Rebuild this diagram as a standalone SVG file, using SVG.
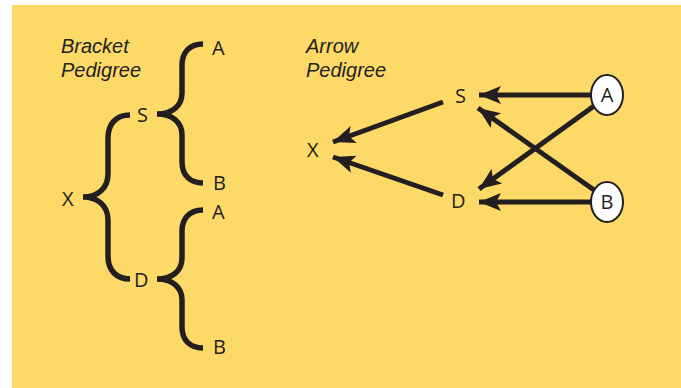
<svg xmlns="http://www.w3.org/2000/svg" width="681" height="388" viewBox="0 0 681 388">
<style>
.lbl{font-family:"Open Sans","Liberation Sans",sans-serif;font-size:20px;fill:#231f20}
.ttl{font-family:"Liberation Sans",Arial,sans-serif;font-size:20px;font-style:italic;fill:#231f20}
.br{fill:none;stroke:#231f20;stroke-width:5.5;stroke-linejoin:miter;stroke-miterlimit:10}
.ar{fill:none;stroke:#231f20;stroke-width:5;marker-end:url(#ah)}
.nd{fill:#fff;stroke:#231f20;stroke-width:2}
</style>
<defs>
<marker id="ah" markerUnits="userSpaceOnUse" markerWidth="26" markerHeight="22" refX="22" refY="9" orient="auto" viewBox="0 0 26 22">
<path d="M0,0 L22,9 L0,18 L5,9 Z" fill="#231f20"/>
</marker>
</defs>
<rect x="12" y="5" width="669" height="383" fill="#fdd967"/>
<g id="bracket-title"><text class="ttl" x="61" y="53">Bracket</text><text class="ttl" x="61" y="77">Pedigree</text></g>
<g id="arrow-title"><text class="ttl" x="306" y="53">Arrow</text><text class="ttl" x="306" y="77">Pedigree</text></g>
<g id="brackets">
<path class="br" d="M203,44 C190,44 182,52 182,65 L182,93 C182,106 172,114 157,114 C172,114 182,122 182,135 L182,162 C182,175 190,183 203,183"/>
<path class="br" d="M130,115 C116,115 108,124 108,138 L108,174 C108,188 98,197 83,197 C98,197 108,206 108,220 L108,256 C108,270 116,279 130,279"/>
<path class="br" d="M203,210 C190,210 182,218 182,231 L182,258 C182,271 172,279 157,279 C172,279 182,287 182,300 L182,327 C182,340 190,348 203,348"/>
</g>
<g id="b-X"><text class="lbl" x="62" y="206">X</text></g>
<g id="b-S"><text class="lbl" x="137" y="122">S</text></g>
<g id="b-D"><text class="lbl" x="134" y="287">D</text></g>
<g id="b-A1"><text class="lbl" x="212" y="55">A</text></g>
<g id="b-B1"><text class="lbl" x="213" y="190">B</text></g>
<g id="b-A2"><text class="lbl" x="212" y="219">A</text></g>
<g id="b-B2"><text class="lbl" x="213" y="354">B</text></g>
<g id="connectors">
<path class="ar" d="M443,102 L333,142"/>
<path class="ar" d="M443,195 L333,157"/>
<path class="ar" d="M591,95 L479,95"/>
<path class="ar" d="M591,202 L479,202"/>
<path class="ar" d="M594,106 L479,189"/>
<path class="ar" d="M594,190 L478,108"/>
</g>
<g id="a-X"><text class="lbl" x="307" y="157">X</text></g>
<g id="a-S"><text class="lbl" x="455" y="103">S</text></g>
<g id="a-D"><text class="lbl" x="451" y="208">D</text></g>
<g id="a-A"><ellipse class="nd" cx="607" cy="95" rx="16" ry="20"/><text class="lbl" x="607" y="102" text-anchor="middle">A</text></g>
<g id="a-B"><ellipse class="nd" cx="607" cy="202" rx="16" ry="20"/><text class="lbl" x="607" y="209" text-anchor="middle">B</text></g>
</svg>
